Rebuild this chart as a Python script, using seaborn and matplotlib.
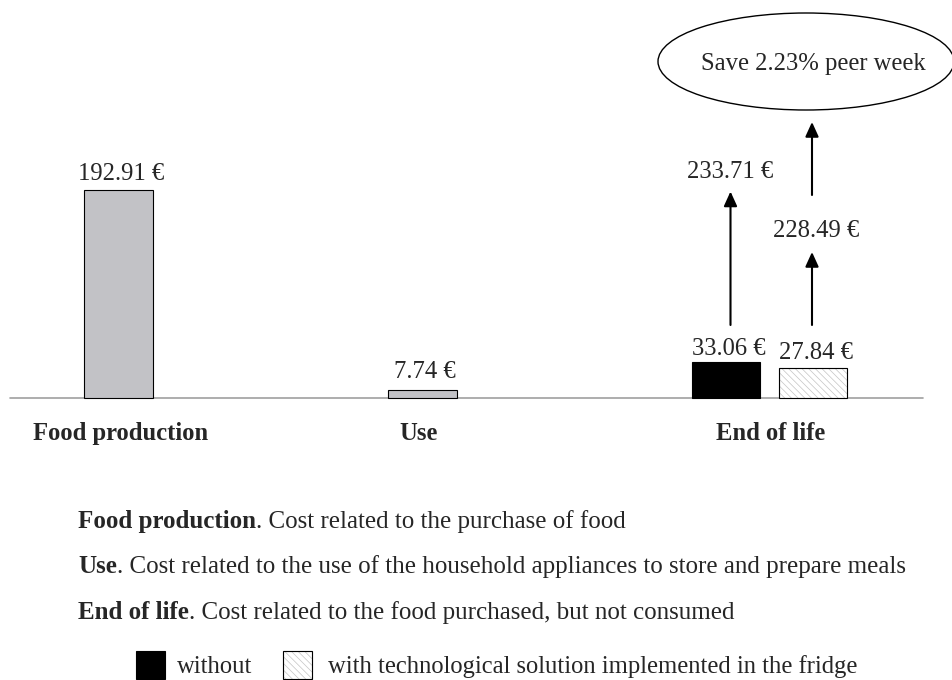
import numpy as np
import pandas as pd
import matplotlib
matplotlib.use('Agg')
import matplotlib.pyplot as plt
from matplotlib.patches import Ellipse, Rectangle
import seaborn as sns

sns.set_theme(style='white')
plt.rcParams['font.family'] = ['Liberation Serif', 'DejaVu Serif']
plt.rcParams['hatch.linewidth'] = 0.5


# ---- data ----
kinds = ['stage', 'stage', 'without', 'with']
costs = [192.91, 7.74, 33.06, 27.84]
cost_labels = ['192.91 €', '7.74 €', '33.06 €', '27.84 €']
weekly_totals = ['233.71 €', '228.49 €']
saving_text = 'Save 2.23% peer week'
category_names = ['Food production', 'Use', 'End of life']
descriptions = ['Cost related to the purchase of food',
                'Cost related to the use of the household appliances to store and prepare meals',
                'Cost related to the food purchased, but not consumed']
legend_labels = ['without', 'with technological solution implemented in the fridge']

palette = {'stage': '#c1c1c7', 'without': 'black', 'with': 'white'}
HATCH = '\\' * 5
HATCH_COL = '#c4c4c4'


# ---- layout (pixels of the 953x680 picture) ----
W, H = 953, 680
bar_x = [118.5, 422.5, 726, 813]
bar_w = 68.5
base_y = 398
px_per_eur = 208 / 192.91
label_pad = [10, 12, 7, 9]          # px between bar top and label baseline
FS = 17.7
FS_DESC = 18


def fp(x, y):
    return x / W, 1 - y / H


fig = plt.figure(figsize=(W / 100, H / 100), dpi=100)
ax = fig.add_axes([0, 0, 1, 1])

df = pd.DataFrame({'x': bar_x, 'cost': costs, 'kind': kinds})
sns.barplot(data=df, x='x', y='cost', hue='kind', palette=palette, dodge=False,
            native_scale=True, width=bar_w / (bar_x[3] - bar_x[2]),
            edgecolor='black', linewidth=0.8, legend=False, ax=ax, zorder=2)

ax.set_xlim(0, W)
ax.set_ylim(-(H - base_y) / px_per_eur, base_y / px_per_eur)
ax.axis('off')
ax.axhline(0, xmin=10 / W, xmax=923 / W, color='#a0a0a0', lw=1.2, zorder=1)

# hatch for the "with solution" bar, grey hatch + black outline
for p in ax.patches:
    cx = p.get_x() + p.get_width() / 2
    if abs(cx - bar_x[3]) < 1:
        p.set_hatch(HATCH)
        p.set_edgecolor(HATCH_COL)
        ax.add_patch(Rectangle((p.get_x(), p.get_y()), p.get_width(), p.get_height(),
                               fill=False, ec='black', lw=0.8, zorder=3))

# value labels
for x, c, lab, pad in zip(bar_x, costs, cost_labels, label_pad):
    ax.annotate(lab, xy=(x, c), xytext=(2, pad * 0.72), textcoords='offset points',
                ha='center', va='baseline', fontsize=FS)

# arrows towards the weekly totals
arrow_kw = dict(arrowstyle='-|>,head_length=0.55,head_width=0.25', color='black',
                lw=1.5, mutation_scale=16, shrinkA=0, shrinkB=0)
for (x0, y0, x1, y1) in [(730.5, 325, 730.5, 191.5), (812, 325, 812, 252), (812, 195, 812, 122)]:
    ax.annotate('', xy=fp(x1, y1), xytext=fp(x0, y0), xycoords='figure fraction',
                textcoords='figure fraction', arrowprops=arrow_kw)

fig.text(*fp(730, 178), weekly_totals[0], ha='center', va='baseline', fontsize=FS)
fig.text(*fp(816, 237), weekly_totals[1], ha='center', va='baseline', fontsize=FS)

ell = Ellipse(fp(806, 61.5), 296 / W, 97 / H, transform=fig.transFigure,
              fill=False, ec='black', lw=1.0)
fig.add_artist(ell)
fig.text(*fp(813, 70), saving_text, ha='center', va='baseline', fontsize=FS)

# category names under the axis
for x, name in zip([121, 419, 771], category_names):
    fig.text(*fp(x, 440), name, ha='center', va='baseline', fontsize=FS, fontweight='bold')

# description lines
renderer = fig.canvas.get_renderer()
for y, name, desc in zip([528, 573, 619], category_names, descriptions):
    t = fig.text(*fp(78, y), name, ha='left', va='baseline', fontsize=FS_DESC, fontweight='bold')
    x_end = t.get_window_extent(renderer).x1
    fig.text(x_end / W, 1 - y / H, '. ' + desc, ha='left', va='baseline', fontsize=FS_DESC)

# legend
fig.add_artist(Rectangle(fp(136, 679), 29 / W, 28 / H, transform=fig.transFigure,
                         fc='black', ec='black', lw=0.8))
fig.add_artist(Rectangle(fp(283, 679), 29 / W, 28 / H, transform=fig.transFigure,
                         fc='white', ec=HATCH_COL, hatch=HATCH, lw=0.8))
fig.add_artist(Rectangle(fp(283, 679), 29 / W, 28 / H, transform=fig.transFigure,
                         fill=False, ec='black', lw=0.8))
fig.text(*fp(177, 673), legend_labels[0], ha='left', va='baseline', fontsize=FS)
fig.text(*fp(328, 673), legend_labels[1], ha='left', va='baseline', fontsize=FS)

fig.savefig('out.png', dpi=100)
